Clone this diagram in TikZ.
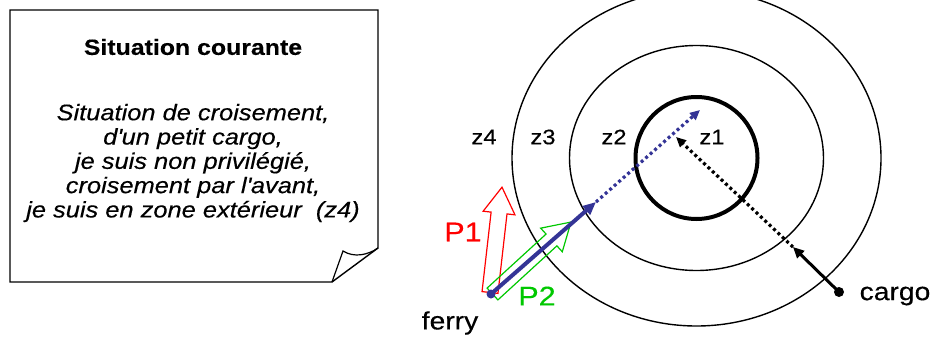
\documentclass[tikz,border=0pt]{standalone}
\usepackage{fontspec}
\setmainfont{Liberation Sans}[FakeStretch=1.13, FakeBold=0.35]
\usetikzlibrary{arrows.meta}
\definecolor{navy}{RGB}{52,52,150}
\definecolor{pgreen}{RGB}{0,200,0}
\tikzset{
  zone/.style={line width=1.4pt},
  zonelabel/.style={font=\fontsize{21}{24}\selectfont},
  shiplabel/.style={font=\fontsize{25}{28}\selectfont},
  plabel/.style={font=\fontsize{27}{30}\selectfont},
  dotline/.style={line width=3.2pt, dash pattern=on 3pt off 3pt},
  outarrow/.style={line width=1.2pt, line join=miter},
}
\begin{document}
\begin{tikzpicture}[x=1pt,y=-1pt]
\clip (0,0) rectangle (932,340);
% note
\draw[line width=1.4pt, line join=miter] (10,10) -- (378,10) -- (378,248) -- (332,282) -- (10,282) -- cycle;
\draw[line width=1.2pt] (332,282) -- (343,251) .. controls (354,258) and (368,255) .. (378,248);
\node[font=\bfseries\fontsize{22}{24}\selectfont] (title) at (193,47) {Situation courante};
\node[font=\itshape\fontsize{22.5}{24.3}\selectfont, align=center] (desc) at (193,163)
  {Situation de croisement,\\ d\textquotesingle un petit cargo,\\ je suis non privilégié,\\ croisement par l\textquotesingle avant,\\ je suis en zone extérieur~~(z4)};
% zones
\coordinate (c) at (696.5,158);
\draw[zone] (c) ellipse [x radius=184.5, y radius=168];
\draw[zone] (c) ellipse [x radius=127, y radius=112.5];
\draw[line width=4pt] (c) circle [radius=61];
\node[zonelabel] (z4) at (484,137) {z4};
\node[zonelabel] (z3) at (543,137) {z3};
\node[zonelabel] (z2) at (614,137) {z2};
\node[zonelabel] (z1) at (712,137) {z1};
% ship positions
\coordinate (ferry) at (491,294);
\coordinate (ftip) at (596,202);
\coordinate (fend) at (700,110);
\coordinate (cargo) at (839,292);
\coordinate (ctip) at (793,247);
\coordinate (cend) at (676,137);
\coordinate (p1base) at (490,292.5);
\coordinate (p2base) at (492.5,294);
% outline arrows P1, P2
\draw[outarrow, red, shift={(p1base)}, rotate=83.5]
  (0,-8) -- (80,-8) -- (80,-16) -- (106,0) -- (80,16) -- (80,8) -- (0,8) -- cycle;
\draw[outarrow, pgreen, shift={(p2base)}, rotate=42.5]
  (0,-8) -- (80,-8) -- (80,-16) -- (106.5,0) -- (80,16) -- (80,8) -- (0,8) -- cycle;
% ferry
\draw[navy, line width=4pt, -{Triangle[length=13pt,width=11pt]}] (ferry) -- (ftip);
\draw[navy, dotline, -{Triangle[length=10pt,width=9pt]}] (ftip) -- (fend);
\fill[navy] (ferry) circle [radius=4.5];
% cargo
\draw[line width=3pt, -{Triangle[length=11pt,width=10pt]}] (cargo) -- (ctip);
\draw[dotline, -{Triangle[length=10pt,width=9pt]}] (ctip) -- (cend);
\fill (cargo) circle [radius=5];
% labels
\node[shiplabel] (ferrylbl) at (450,323) {ferry};
\node[shiplabel] (cargolbl) at (895,296) {cargo};
\node[plabel, red] (p1lbl) at (463,232) {P1};
\node[plabel, pgreen] (p2lbl) at (537,296) {P2};
\end{tikzpicture}
\end{document}
